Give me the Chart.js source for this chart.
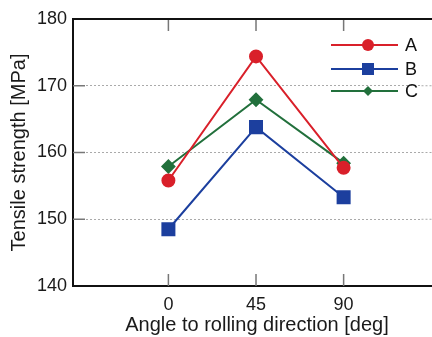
<!DOCTYPE html>
<html>
<head>
<meta charset="utf-8">
<script src="https://cdn.jsdelivr.net/npm/chart.js@4/dist/chart.umd.min.js"></script>
<style>
  html, body { margin: 0; padding: 0; background: #fff; }
  #wrap { width: 432px; height: 337px; }
</style>
</head>
<body>
<div id="wrap"><canvas id="lineChart"></canvas></div>
<script>
// data
var angles = [0, 45, 90];
var seriesA = [155.8, 174.4, 157.7];
var seriesB = [148.5, 163.8, 153.3];
var seriesC = [157.9, 167.9, 158.4];
var yTicks = [140, 150, 160, 170, 180];
var xTitle = 'Angle to rolling direction [deg]';

var FONT = "'Liberation Sans', Arial, sans-serif";
var red = '#d9202a', blue = '#1c3f9e', green = '#22703c';

function pts(vals) {
    return angles.map(function (a, i) { return {x: a, y: vals[i]}; });
}

// top border, inside ticks, x title, legend with line + marker
var framePlugin = {
    id: 'frame',
    afterDatasetsDraw: function (chart) {
        var ctx = chart.ctx, a = chart.chartArea, W = chart.width;
        var xs = chart.scales.x, ys = chart.scales.y;
        ctx.save();
        // the plot runs off the right edge: carry grid lines to the edge
        ctx.strokeStyle = '#aaa';
        ctx.lineWidth = 1;
        ctx.setLineDash([2, 2]);
        [150, 160, 170].forEach(function (v) {
            var py = ys.getPixelForValue(v);
            ctx.beginPath();
            ctx.moveTo(a.right, py); ctx.lineTo(W, py);
            ctx.stroke();
        });
        ctx.setLineDash([]);

        ctx.strokeStyle = '#777';
        ctx.lineWidth = 1.5;
        angles.forEach(function (v) {
            var px = xs.getPixelForValue(v);
            ctx.beginPath();
            ctx.moveTo(px, a.top); ctx.lineTo(px, a.top + 12);
            ctx.moveTo(px, a.bottom); ctx.lineTo(px, a.bottom - 12);
            ctx.stroke();
        });
        [150, 160, 170].forEach(function (v) {
            var py = ys.getPixelForValue(v);
            ctx.beginPath();
            ctx.moveTo(a.left, py); ctx.lineTo(a.left + 12, py);
            ctx.stroke();
        });
        ctx.strokeStyle = '#111';
        ctx.lineWidth = 2;
        ctx.beginPath();
        ctx.moveTo(a.left - 1, a.top); ctx.lineTo(W, a.top);
        ctx.moveTo(a.right - 1, a.bottom); ctx.lineTo(W, a.bottom);
        ctx.stroke();

        // x axis title (the original sits a little right of the plot centre)
        ctx.fillStyle = '#1a1a1a';
        ctx.font = '20px ' + FONT;
        ctx.textAlign = 'center';
        ctx.textBaseline = 'middle';
        ctx.fillText(xTitle, 257, 325);

        // legend
        var rows = [45, 69, 91];
        chart.data.datasets.forEach(function (ds, i) {
            var y = rows[i];
            ctx.strokeStyle = ds.borderColor;
            ctx.lineWidth = 2;
            ctx.beginPath();
            ctx.moveTo(331, y); ctx.lineTo(398, y);
            ctx.stroke();
            ctx.fillStyle = ds.backgroundColor;
            Chart.helpers.drawPoint(ctx, {
                pointStyle: ds.pointStyle, rotation: 0, borderWidth: 0,
                radius: ds.legendRadius
            }, 368, y);
            ctx.fillStyle = '#111';
            ctx.font = '18px ' + FONT;
            ctx.textBaseline = 'middle';
            ctx.textAlign = 'left';
            ctx.fillText(ds.label, 405, y + 1);
        });
        ctx.restore();
    }
};

var ctx = document.getElementById('lineChart').getContext('2d');
var lineChart = new Chart(ctx, {
    type: 'line',
    data: {
        datasets: [{
            label: 'A',
            data: pts(seriesA),
            borderColor: red,
            backgroundColor: red,
            pointStyle: 'circle',
            pointRadius: 6,
            legendRadius: 6,
            borderWidth: 2
        }, {
            label: 'B',
            data: pts(seriesB),
            borderColor: blue,
            backgroundColor: blue,
            pointStyle: 'rect',
            pointRadius: 8.5,
            legendRadius: 8.5,
            borderWidth: 2
        }, {
            label: 'C',
            data: pts(seriesC),
            borderColor: green,
            backgroundColor: green,
            pointStyle: 'rectRot',
            pointRadius: 6,
            legendRadius: 5,
            borderWidth: 2
        }]
    },
    plugins: [framePlugin],
    options: {
        responsive: true,
        maintainAspectRatio: false,
        animation: false,
        layout: {padding: {top: 19, right: 0, left: 0, bottom: 0}},
        plugins: {legend: {display: false}, tooltip: {enabled: false}},
        elements: {point: {borderWidth: 0, hoverRadius: 6}, line: {tension: 0}},
        scales: {
            x: {
                type: 'linear',
                min: -49,
                max: 130,
                afterBuildTicks: function (s) {
                    s.ticks = angles.map(function (v) { return {value: v}; });
                },
                afterFit: function (s) { s.height = 51; },
                grid: {drawOnChartArea: false, drawTicks: false},
                border: {display: true, color: '#111', width: 2},
                ticks: {
                    padding: 8,
                    color: '#1a1a1a',
                    font: {family: FONT, size: 18},
                    maxRotation: 0
                },
                title: {display: false}
            },
            y: {
                min: 140,
                max: 180,
                afterBuildTicks: function (s) {
                    s.ticks = yTicks.map(function (v) { return {value: v}; });
                },
                afterFit: function (s) { s.width = 73; },
                grid: {
                    drawTicks: false,
                    color: function (c) {
                        var v = c.tick && c.tick.value;
                        return (v === 140 || v === 180) ? 'rgba(0,0,0,0)' : '#aaa';
                    },
                    lineWidth: 1
                },
                border: {display: true, color: '#111', width: 2, dash: [2, 2]},
                ticks: {
                    padding: 6,
                    color: '#1a1a1a',
                    font: {family: FONT, size: 18}
                },
                title: {
                    display: true,
                    text: 'Tensile strength [MPa]',
                    color: '#1a1a1a',
                    font: {family: FONT, size: 20},
                    padding: {top: 7, bottom: 0}
                }
            }
        }
    }
});
</script>
</body>
</html>
